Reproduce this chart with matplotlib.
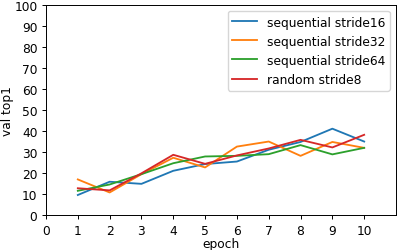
import matplotlib
matplotlib.use('Agg')
import matplotlib.pyplot as plt

epochs = [1, 2, 3, 4, 5, 6, 7, 8, 9, 10]
seq_stride16 = [9.5, 15.8, 14.8, 21.0, 24.2, 25.4, 31.0, 34.7, 41.0, 34.9]
seq_stride32 = [16.9, 10.7, 19.4, 27.2, 22.6, 32.5, 34.9, 28.1, 34.7, 31.9]
seq_stride64 = [11.5, 14.5, 19.4, 24.6, 27.8, 28.1, 28.9, 33.2, 28.8, 31.9]
rand_stride8 = [12.7, 11.7, 19.8, 28.6, 24.3, 28.3, 31.6, 35.7, 32.1, 38.1]

# reference looks like a default figure scaled down a bit
s = 0.88
plt.rcParams.update({
    'font.size': 10 * s,
    'lines.linewidth': 1.5 * s,
    'axes.linewidth': 0.8 * s,
    'xtick.major.size': 3.5 * s,
    'ytick.major.size': 3.5 * s,
    'xtick.major.width': 0.8 * s,
    'ytick.major.width': 0.8 * s,
    'xtick.major.pad': 3.5 * s,
    'ytick.major.pad': 3.5 * s,
})

fig = plt.figure(figsize=(3.98, 2.51), dpi=100)
ax = fig.add_axes([46 / 398, 35 / 251, 350 / 398, 210.5 / 251])

ax.plot(epochs, seq_stride16, label='sequential stride16')
ax.plot(epochs, seq_stride32, label='sequential stride32')
ax.plot(epochs, seq_stride64, label='sequential stride64')
ax.plot(epochs, rand_stride8, label='random stride8')

ax.set_xlim(0, 11)
ax.set_ylim(0, 100)
ax.set_xticks(range(0, 11))
ax.set_yticks(range(0, 101, 10))
ax.set_xlabel('epoch', labelpad=0)
ax.set_ylabel('val top1', labelpad=0)
ax.legend(loc='upper right')

fig.savefig('out.png', dpi=100)
